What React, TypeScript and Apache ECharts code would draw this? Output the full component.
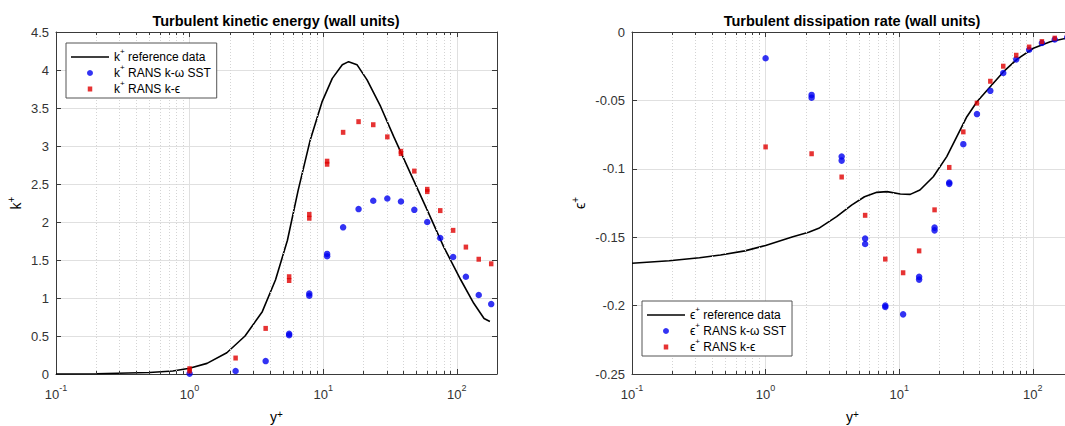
import React, { useEffect, useRef } from 'react';
import * as echarts from 'echarts';

// ---------- data ----------
const kRefY = [0.1, 0.2, 0.5, 0.75, 1.0, 1.35, 1.9, 2.6, 3.5, 4.4, 5.4, 6.5, 8.0, 9.8, 11.7, 13.9, 15.5, 17.9, 21.3, 26.9, 33.8, 45, 60, 80, 107, 134, 160, 177];
const kRefV = [0.0008, 0.003, 0.02, 0.04, 0.075, 0.14, 0.28, 0.5, 0.82, 1.24, 1.76, 2.42, 3.08, 3.58, 3.89, 4.07, 4.11, 4.07, 3.87, 3.52, 3.12, 2.64, 2.16, 1.67, 1.24, 0.93, 0.73, 0.69];

const kSstY = [1.0, 2.21, 3.71, 5.56, 5.56, 7.87, 7.87, 10.7, 10.7, 14.1, 18.4, 23.7, 30.2, 38.2, 48.1, 60.1, 75.2, 93.9, 117, 146, 181];
const kSstV = [0.005, 0.04, 0.17, 0.51, 0.53, 1.03, 1.06, 1.55, 1.58, 1.93, 2.17, 2.28, 2.31, 2.27, 2.16, 2.0, 1.79, 1.54, 1.28, 1.04, 0.92];

const kKeY = [1.0, 1.0, 2.21, 3.71, 5.56, 5.56, 7.87, 7.87, 10.7, 10.7, 14.1, 18.4, 23.7, 30.2, 38.2, 38.2, 48.1, 60.1, 60.1, 75.2, 93.9, 117, 146, 181];
const kKeV = [0.04, 0.07, 0.21, 0.6, 1.23, 1.28, 2.05, 2.1, 2.76, 2.8, 3.18, 3.32, 3.28, 3.12, 2.9, 2.93, 2.67, 2.4, 2.43, 2.15, 1.89, 1.67, 1.51, 1.45];

const eRefY = [0.1, 0.19, 0.32, 0.46, 0.7, 1.0, 1.6, 2.1, 2.5, 3.4, 4.4, 5.5, 6.8, 8.1, 10.2, 12.1, 14.3, 18.0, 22.7, 27.0, 32.1, 38.2, 48, 60.4, 76, 101, 135, 178];
const eRefV = [-0.169, -0.1672, -0.165, -0.163, -0.16, -0.156, -0.1496, -0.1464, -0.1435, -0.135, -0.1265, -0.1204, -0.1172, -0.1167, -0.1184, -0.1187, -0.1155, -0.1058, -0.0911, -0.0765, -0.0619, -0.051, -0.04, -0.029, -0.02, -0.0119, -0.0071, -0.0046];

const eSstY = [1.0, 2.21, 2.21, 3.71, 3.71, 5.56, 5.56, 7.87, 7.87, 10.7, 14.1, 14.1, 18.4, 18.4, 23.7, 23.7, 30.2, 38.2, 48.1, 60.1, 75.2, 93.9, 117, 146, 181];
const eSstV = [-0.0192, -0.046, -0.048, -0.091, -0.094, -0.151, -0.155, -0.2, -0.201, -0.2064, -0.179, -0.181, -0.143, -0.145, -0.11, -0.111, -0.082, -0.06, -0.043, -0.03, -0.02, -0.013, -0.008, -0.0055, -0.004];

const eKeY = [1.0, 2.21, 3.71, 5.56, 7.87, 10.7, 14.1, 18.4, 23.7, 30.2, 38.2, 48.1, 60.1, 75.2, 93.9, 117, 146, 181];
const eKeV = [-0.084, -0.089, -0.106, -0.134, -0.166, -0.176, -0.16, -0.13, -0.099, -0.073, -0.052, -0.036, -0.025, -0.017, -0.011, -0.007, -0.0045, -0.003];

const minorX = [0.2, 0.3, 0.4, 0.5, 0.6, 0.7, 0.8, 0.9, 2, 3, 4, 5, 6, 7, 8, 9, 20, 30, 40, 50, 60, 70, 80, 90];

const titles = ['Turbulent kinetic energy (wall units)', 'Turbulent dissipation rate (wall units)'];
const kNames = ['k+ reference data', 'k+ RANS k-ω SST', 'k+ RANS k-ϵ'];
const eNames = ['ϵ+ reference data', 'ϵ+ RANS k-ω SST', 'ϵ+ RANS k-ϵ'];

// ---------- style ----------
const FONT = '"Liberation Sans", Arial, Helvetica, sans-serif';
const AX = '#3a3a3a';
const GRIDC = '#e0e0e0';
const MINORC = '#d4d4d4';
const LBL = '#333333';
const BLUE = '#0000f0';
const RED = '#e00000';
const SQUARE_ICON = 'path://M0,0M38,6M16.75,0.5h4.5v5h-4.5z';
const LINE_ICON = 'path://M0,0M38,6M0,2.2H38V3.8H0z';

const zip = (xs: number[], ys: number[]) => xs.map((x, i) => [x, ys[i]]);

const xFormatter = (v: number) => {
  const l = Math.log10(v);
  const e = Math.round(l);
  if (Math.abs(l - e) > 1e-6) return '';
  return `{b|10}{e|${e}}`;
};

const supRich = (base: number, sup: number, lh: number, slh: number) => ({
  t: { fontSize: base, lineHeight: lh, fontFamily: FONT, color: '#000' },
  s: { fontSize: sup, lineHeight: slh, verticalAlign: 'top', fontFamily: FONT, color: '#000' },
});

const legendFmt = (name: string) => `{t|${name[0]}}{s|+}{t|${name.slice(2)}}`;

function xAxes(gridIndex: number) {
  const common = {
    type: 'log',
    logBase: 10,
    gridIndex,
    min: 0.1,
    max: 200,
    axisLine: { show: true, onZero: false, lineStyle: { color: AX, width: 1 } },
    axisTick: { show: true, inside: true, length: 5, lineStyle: { color: AX } },
  };
  return [
    {
      ...common,
      position: 'bottom',
      axisLabel: {
        margin: 9,
        formatter: xFormatter,
        rich: {
          b: { fontSize: 13, lineHeight: 22, color: LBL, fontFamily: FONT },
          e: { fontSize: 9, lineHeight: 13, verticalAlign: 'top', color: LBL, fontFamily: FONT },
        },
      },
      splitLine: { show: true, lineStyle: { color: GRIDC, width: 1 } },
      name: '{t|y}{s|+}',
      nameLocation: 'middle',
      nameGap: 35,
      nameTextStyle: { rich: supRich(14, 10, 16, 6) },
    },
    {
      ...common,
      position: 'top',
      axisLabel: { show: false },
      splitLine: { show: false },
    },
  ];
}

function yAxes(gridIndex: number, min: number, max: number, interval: number, sym: string, gap: number) {
  const common = {
    type: 'value',
    gridIndex,
    min,
    max,
    interval,
    axisLine: { show: true, onZero: false, lineStyle: { color: AX, width: 1 } },
    axisTick: { show: true, inside: true, length: 5, lineStyle: { color: AX } },
  };
  return [
    {
      ...common,
      position: 'left',
      axisLabel: { margin: 7, fontSize: 13, color: LBL, fontFamily: FONT },
      splitLine: { show: true, lineStyle: { color: GRIDC, width: 1 } },
      name: `{t|${sym}}{s|+}`,
      nameLocation: 'middle',
      nameGap: gap,
      nameRotate: 90,
      nameTextStyle: { rich: supRich(14, 10, 20, 12) },
    },
    {
      ...common,
      position: 'right',
      axisLabel: { show: false },
      splitLine: { show: false },
    },
  ];
}

function panelSeries(axisIdx: number, names: string[], refX: number[], refV: number[], sstX: number[], sstV: number[], keX: number[], keV: number[], yMin: number, yMax: number, tickLen: number) {
  const ax = { xAxisIndex: axisIdx, yAxisIndex: axisIdx };
  return [
    {
      type: 'line',
      ...ax,
      data: [],
      silent: true,
      z: 1,
      markLine: {
        silent: true,
        symbol: ['none', 'none'],
        label: { show: false },
        emphasis: { disabled: true },
        lineStyle: { color: MINORC, type: [1, 2], width: 1 },
        data: minorX.map((v) => ({ xAxis: v })),
      },
    },
    {
      type: 'line',
      ...ax,
      data: [],
      silent: true,
      z: 3,
      markLine: {
        silent: true,
        symbol: ['none', 'none'],
        label: { show: false },
        emphasis: { disabled: true },
        lineStyle: { color: AX, type: 'solid', width: 1 },
        data: minorX.flatMap((v) => [
          [{ coord: [v, yMin] }, { coord: [v, yMin + tickLen] }],
          [{ coord: [v, yMax] }, { coord: [v, yMax - tickLen] }],
        ]),
      },
    },
    {
      name: names[0],
      type: 'line',
      ...ax,
      data: zip(refX, refV),
      showSymbol: false,
      symbol: 'none',
      color: '#000',
      lineStyle: { color: '#000', width: 1.6 },
      z: 4,
    },
    {
      name: names[1],
      type: 'scatter',
      ...ax,
      data: zip(sstX, sstV),
      symbol: 'circle',
      symbolSize: 6.5,
      itemStyle: { color: BLUE },
      z: 5,
    },
    {
      name: names[2],
      type: 'scatter',
      ...ax,
      data: zip(keX, keV),
      symbol: 'rect',
      symbolSize: [4.5, 5],
      itemStyle: { color: RED },
      z: 5,
    },
  ];
}

function legendFor(names: string[], left: number, top: number) {
  return {
    orient: 'vertical',
    left,
    top,
    data: [
      { name: names[0], icon: LINE_ICON, itemStyle: { color: '#000' } },
      { name: names[1], icon: 'circle' },
      { name: names[2], icon: SQUARE_ICON },
    ],
    itemWidth: 38,
    itemHeight: 6,
    itemGap: 0,
    padding: [4, 6, 3, 5],
    backgroundColor: '#fff',
    borderColor: '#555',
    borderWidth: 1,
    borderRadius: 0,
    selectedMode: false,
    formatter: legendFmt,
    textStyle: { fontFamily: FONT, fontSize: 12, color: '#000', rich: supRich(12, 8, 20, 12) },
    z: 10,
  };
}

export default function App() {
  const ref = useRef<HTMLDivElement>(null);
  useEffect(() => {
    if (!ref.current) return;
    const chart = echarts.init(ref.current, null, { renderer: 'svg' });
    const option: any = {
      animation: false,
      backgroundColor: '#fff',
      textStyle: { fontFamily: FONT },
      title: [
        { text: titles[0], left: 276, top: 13, textAlign: 'center', padding: 0, textStyle: { fontSize: 14.5, fontWeight: 'bold', color: '#000', fontFamily: FONT } },
        { text: titles[1], left: 852, top: 13, textAlign: 'center', padding: 0, textStyle: { fontSize: 14.5, fontWeight: 'bold', color: '#000', fontFamily: FONT } },
      ],
      grid: [
        { left: 56, top: 32, width: 441, height: 342, show: false, containLabel: false, outerBoundsMode: 'none' },
        { left: 632, top: 32, width: 441, height: 342, show: false, containLabel: false, outerBoundsMode: 'none' },
      ],
      xAxis: [...xAxes(0), ...xAxes(1)],
      yAxis: [...yAxes(0, 0, 4.5, 0.5, 'k', 30), ...yAxes(1, -0.25, 0, 0.05, 'ϵ', 42)],
      legend: [legendFor(kNames, 66, 43), legendFor(eNames, 642, 301)],
      series: [
        ...panelSeries(0, kNames, kRefY, kRefV, kSstY, kSstV, kKeY, kKeV, 0, 4.5, 0.04),
        ...panelSeries(2, eNames, eRefY, eRefV, eSstY, eSstV, eKeY, eKeV, -0.25, 0, 0.0022),
      ],
    };
    chart.setOption(option);
    return () => chart.dispose();
  }, []);
  return <div ref={ref} style={{ position: 'absolute', left: 0, top: 0, width: 1065, height: 426, background: '#fff' }} />;
}
